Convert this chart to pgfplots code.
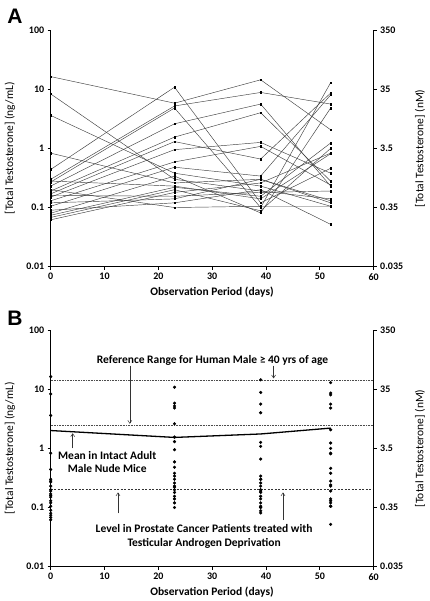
\documentclass[border=0pt]{standalone}
\usepackage{fontspec}
\setmainfont{Carlito}
\newfontfamily\arialfont{Liberation Sans}
\usepackage{pgfplots}
\pgfplotsset{compat=1.18}
\usepackage{pgfplotstable}
\usetikzlibrary{arrows.meta}

% rows: observation day; columns: individual mice (ng/mL)
\pgfplotstableread{
day m1 m2 m3 m4 m5 m6 m7 m8 m9 m10 m11 m12 m13 m14 m15 m16 m17 m18 m19 m20 m21 m22
0 16.3 8.3 3.6 0.83 0.44 0.30 0.27 0.23 0.19 0.17 0.15 0.13 0.105 0.08 0.074 0.068 0.062 0.28 0.16 0.12 0.09 0.20
23 5.8 0.30 0.38 0.26 10.8 5.2 4.8 2.6 1.55 1.3 0.95 0.59 0.48 0.34 0.22 0.20 0.18 0.23 0.155 0.14 0.12 0.10
39 14.4 0.19 0.23 0.30 0.12 8.8 0.10 5.6 4.0 0.66 1.26 1.08 0.34 0.081 0.155 0.088 0.26 0.14 0.18 0.30 0.20 0.105
52 2.06 0.14 0.105 0.12 0.46 5.6 12.9 0.23 0.28 8.6 0.38 0.24 8.0 4.8 1.23 1.0 0.83 0.81 0.19 0.13 0.052 0.105
}\mice

\pgfkeys{/pgf/number format/assume math mode=true}

\begin{document}
\begin{tikzpicture}
\useasboundingbox (0pt,0pt) rectangle (430pt,601pt);

% ---------------- Panel A ----------------
\begin{axis}[at={(50.7pt,334.3pt)}, anchor=south west,
    scale only axis, width=323pt, height=236.7pt,
    xmin=0, xmax=60, ymode=log, ymin=0.01, ymax=100,
    axis x line*=bottom, axis y line*=left,
    axis line style={line width=1.2pt, black},
    xtick={0,10,...,60},
    ytick={0.01,0.1,1,10,100}, yticklabels={0.01,0.1,1,10,100},
    minor tick length=0pt,
    tick style={line width=0.8pt, black},
    tick align=outside, major tick length=3pt,
    tick label style={font=\bfseries\fontsize{10}{11}\selectfont},
    xlabel={Observation Period (days)},
    xlabel style={font=\bfseries\fontsize{11.5}{13}\selectfont, at={(axis description cs:0.4994,-0.107)}, anchor=center},
    ylabel={[Total Testosterone] (ng/mL)},
    ylabel style={font=\fontsize{11.5}{13}\selectfont, at={(axis description cs:-0.126,0.5)}, anchor=center},
    clip=false]
\pgfplotsinvokeforeach{1,...,22}{
  \addplot[black!75, line width=0.45pt, mark=square*, mark size=0.75pt,
           mark options={fill=black, draw=black}] table[x=day, y=m#1]{\mice};
}
\end{axis}
\begin{axis}[at={(50.7pt,334.3pt)}, anchor=south west,
    scale only axis, width=323pt, height=236.7pt,
    xmin=0, xmax=60, ymode=log, ymin=0.035, ymax=350,
    axis y line*=right, axis x line=none,
    axis line style={line width=1.2pt, black},
    ytick={0.035,0.35,3.5,35,350}, yticklabels={0.035,0.35,3.5,35,350},
    minor tick length=0pt,
    tick style={line width=0.8pt, black},
    tick align=outside, major tick length=3pt,
    tick label style={font=\bfseries\fontsize{10}{11}\selectfont},
    ylabel={[Total Testosterone] (nM)},
    ylabel style={font=\fontsize{11.5}{13}\selectfont, at={(axis description cs:1.143,0.5)}, anchor=center}]
\end{axis}

% ---------------- Panel B ----------------
\begin{axis}[at={(50.7pt,34.3pt)}, anchor=south west,
    scale only axis, width=323pt, height=236.7pt,
    xmin=0, xmax=60, ymode=log, ymin=0.01, ymax=100,
    axis x line*=bottom, axis y line*=left,
    axis line style={line width=1.2pt, black},
    xtick={0,10,...,60},
    ytick={0.01,0.1,1,10,100}, yticklabels={0.01,0.1,1,10,100},
    minor tick length=0pt,
    tick style={line width=0.8pt, black},
    tick align=outside, major tick length=3pt,
    tick label style={font=\bfseries\fontsize{10}{11}\selectfont},
    xlabel={Observation Period (days)},
    xlabel style={font=\bfseries\fontsize{11.5}{13}\selectfont, at={(axis description cs:0.4994,-0.107)}, anchor=center},
    ylabel={[Total Testosterone] (ng/mL)},
    ylabel style={font=\fontsize{11.5}{13}\selectfont, at={(axis description cs:-0.126,0.5)}, anchor=center},
    clip=false]
\addplot[black!70, line width=0.5pt, dash pattern=on 0.8pt off 0.8pt] coordinates {(0,14.4) (60,14.4)};
\addplot[black!70, line width=0.5pt, dash pattern=on 0.8pt off 0.8pt] coordinates {(0,2.5) (60,2.5)};
\addplot[black!80, line width=0.5pt, dash pattern=on 2pt off 1.5pt] coordinates {(0,0.2) (60,0.2)};
\addplot[black, line width=1.3pt] coordinates {(0,2.0) (23,1.53) (39,1.75) (52,2.2)};
\pgfplotsinvokeforeach{1,...,22}{
  \addplot[only marks, mark=*, mark size=1.4pt, black] table[x=day, y=m#1]{\mice};
}
\node[font=\bfseries\fontsize{11.5}{13}\selectfont] at (axis cs:30.06,30.4) {Reference Range for Human Male ≥ 40 yrs of age};
\draw[black!80, line width=0.5pt, -{Straight Barb[length=3pt,width=4pt]}] (axis cs:14.7,25) -- (axis cs:14.7,2.6);
\draw[black!80, line width=0.5pt, -{Straight Barb[length=3pt,width=4pt]}] (axis cs:41.4,25) -- (axis cs:41.4,15.2);
\node[font=\bfseries\fontsize{11.5}{13.5}\selectfont, align=center] at (axis cs:10.5,0.593) {Mean in Intact Adult\\Male Nude Mice};
\draw[black!80, line width=0.5pt, -{Straight Barb[length=3pt,width=4pt]}] (axis cs:4.09,1.0) -- (axis cs:4.09,1.8);
\node[font=\bfseries\fontsize{11.5}{13.5}\selectfont, align=center] at (axis cs:28.5,0.0323) {Level in Prostate Cancer Patients treated with\\Testicular Androgen Deprivation};
\draw[black!80, line width=0.5pt, -{Straight Barb[length=3pt,width=4pt]}] (axis cs:12.5,0.08) -- (axis cs:12.5,0.18);
\draw[black!80, line width=0.5pt, -{Straight Barb[length=3pt,width=4pt]}] (axis cs:43.15,0.061) -- (axis cs:43.15,0.18);
\end{axis}
\begin{axis}[at={(50.7pt,34.3pt)}, anchor=south west,
    scale only axis, width=323pt, height=236.7pt,
    xmin=0, xmax=60, ymode=log, ymin=0.035, ymax=350,
    axis y line*=right, axis x line=none,
    axis line style={line width=1.2pt, black},
    ytick={0.035,0.35,3.5,35,350}, yticklabels={0.035,0.35,3.5,35,350},
    minor tick length=0pt,
    tick style={line width=0.8pt, black},
    tick align=outside, major tick length=3pt,
    tick label style={font=\bfseries\fontsize{10}{11}\selectfont},
    ylabel={[Total Testosterone] (nM)},
    ylabel style={font=\fontsize{11.5}{13}\selectfont, at={(axis description cs:1.143,0.5)}, anchor=center}]
\end{axis}

% panel letters
\node[font=\arialfont\bfseries\fontsize{21}{21}\selectfont] at (15pt,585pt) {A};
\node[font=\arialfont\bfseries\fontsize{21}{21}\selectfont] at (15pt,282.5pt) {B};
\end{tikzpicture}
\end{document}
